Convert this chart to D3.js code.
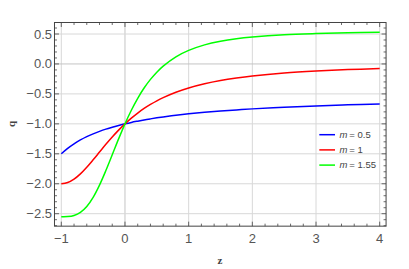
<!DOCTYPE html>
<html><head><meta charset="utf-8">
<script src="https://cdn.jsdelivr.net/npm/d3@7"></script>
<style>body{margin:0;background:#fff}svg{display:block}</style>
</head><body><svg id="c" width="409" height="269"></svg>
<script>
const zValues = [-1,-0.9,-0.8,-0.7,-0.6,-0.5,-0.4,-0.3,-0.2,-0.1,0,0.1,0.2,0.3,0.4,0.5,0.6,0.8,1.0,1.25,1.5,1.75,2,2.5,3,3.5,4];
const qBlue  = [-1.5,-1.409,-1.333,-1.269,-1.214,-1.167,-1.125,-1.088,-1.056,-1.026,-1,-0.976,-0.955,-0.935,-0.917,-0.9,-0.885,-0.857,-0.833,-0.808,-0.786,-0.767,-0.75,-0.722,-0.7,-0.682,-0.667];
const qRed   = [-2,-1.980,-1.923,-1.835,-1.724,-1.6,-1.471,-1.342,-1.220,-1.105,-1,-0.905,-0.820,-0.743,-0.676,-0.615,-0.562,-0.472,-0.4,-0.330,-0.276,-0.234,-0.2,-0.151,-0.118,-0.094,-0.077];
const qGreen = [-2.55,-2.548,-2.529,-2.478,-2.379,-2.226,-2.022,-1.779,-1.516,-1.251,-1,-0.773,-0.573,-0.402,-0.258,-0.137,-0.036,0.119,0.226,0.318,0.379,0.421,0.450,0.488,0.508,0.521,0.529];
const seriesNames = ["0.5","1","1.55"];
const seriesColors = ["#0000ff","#ff0000","#00ff00"];
const xTicks = [-1,0,1,2,3,4];
const yTicks = [-2.5,-2,-1.5,-1,-0.5,0,0.5];

const svg = d3.select("#c");
const x = d3.scaleLinear().domain([-1,4]).range([61.3,379.7]);
const y = d3.scaleLinear().domain([-2.5,0.5]).range([213.7,34]);
const xMin=-1.107, xMax=4.1, yMin=-2.708, yMax=0.692;
const L=x(xMin), R=x(xMax), T=y(yMax), B=y(yMin);

// grid
svg.append("g").selectAll("line").data(xTicks).join("line")
  .attr("x1",d=>x(d)).attr("x2",d=>x(d)).attr("y1",T).attr("y2",B)
  .attr("stroke",d=>d===0?"#c4c4c4":"#d8d8d8").attr("stroke-width",1);
svg.append("g").selectAll("line").data(yTicks).join("line")
  .attr("y1",d=>y(d)).attr("y2",d=>y(d)).attr("x1",L).attr("x2",R)
  .attr("stroke",d=>d===0?"#c4c4c4":"#d8d8d8").attr("stroke-width",1);

// curves
svg.append("clipPath").attr("id","clip").append("rect").attr("x",L).attr("y",T).attr("width",R-L).attr("height",B-T);
const line = d3.line().x((d,i)=>x(zValues[i])).y(d=>y(d)).curve(d3.curveCatmullRom);
[qBlue,qRed,qGreen].forEach((s,i)=>{
  svg.append("path").attr("d",line(s)).attr("fill","none").attr("stroke",seriesColors[i])
    .attr("stroke-width",1.5).attr("clip-path","url(#clip)");
});

// frame
const fc="#444";
svg.append("rect").attr("x",L).attr("y",T).attr("width",R-L).attr("height",B-T)
  .attr("fill","none").attr("stroke",fc).attr("stroke-width",1);
const xMinor=d3.range(-1,4.01,0.2).map(v=>+v.toFixed(2));
const yMinor=d3.range(-2.7,0.61,0.1).map(v=>+v.toFixed(2));
const tk=svg.append("g").attr("stroke",fc).attr("stroke-width",0.8);
xMinor.forEach(v=>{
  const major=Math.abs(v-Math.round(v))<1e-6; const len=major?4.5:2.5;
  tk.append("line").attr("x1",x(v)).attr("x2",x(v)).attr("y1",B).attr("y2",B-len);
  tk.append("line").attr("x1",x(v)).attr("x2",x(v)).attr("y1",T).attr("y2",T+len);
});
yMinor.forEach(v=>{
  const major=Math.abs(v*2-Math.round(v*2))<1e-6; const len=major?4.5:2.5;
  tk.append("line").attr("y1",y(v)).attr("y2",y(v)).attr("x1",L).attr("x2",L+len);
  tk.append("line").attr("y1",y(v)).attr("y2",y(v)).attr("x1",R).attr("x2",R-len);
});

// tick labels
const tf="Liberation Sans, Arial, sans-serif";
svg.append("g").selectAll("text").data(xTicks).join("text")
  .attr("x",d=>x(d)).attr("y",243).attr("text-anchor","middle")
  .attr("font-family",tf).attr("font-size",13).attr("fill","#555")
  .text(d=>d<0?"\u2212"+Math.abs(d):d);
svg.append("g").selectAll("text").data(yTicks).join("text")
  .attr("x",52).attr("y",d=>y(d)+4.5).attr("text-anchor","end")
  .attr("font-family",tf).attr("font-size",13).attr("fill","#555")
  .text(d=>(d<0?"\u2212":"")+Math.abs(d).toFixed(1));

// axis labels
svg.append("text").attr("x",220).attr("y",264).attr("text-anchor","middle")
  .attr("font-family","Liberation Serif, serif").attr("font-weight","bold").attr("font-size",11).attr("fill","#444").text("z");
svg.append("text").attr("transform","translate(15,124) rotate(-90)").attr("text-anchor","middle")
  .attr("font-family","Liberation Serif, serif").attr("font-weight","bold").attr("font-size",11).attr("fill","#444").text("q");

// legend
const lg=svg.append("g");
seriesNames.forEach((n,i)=>{
  const yy=134.7+i*15.2;
  lg.append("line").attr("x1",319.3).attr("x2",335).attr("y1",yy).attr("y2",yy)
    .attr("stroke",seriesColors[i]).attr("stroke-width",1.5);
  const t=lg.append("text").attr("x",339.5).attr("y",yy+3.3)
    .attr("font-family",tf).attr("font-size",9.5).attr("fill","#444");
  t.append("tspan").attr("font-style","italic").text("m");
  t.append("tspan").text("\u2009= "+n);
});
</script></body></html>
